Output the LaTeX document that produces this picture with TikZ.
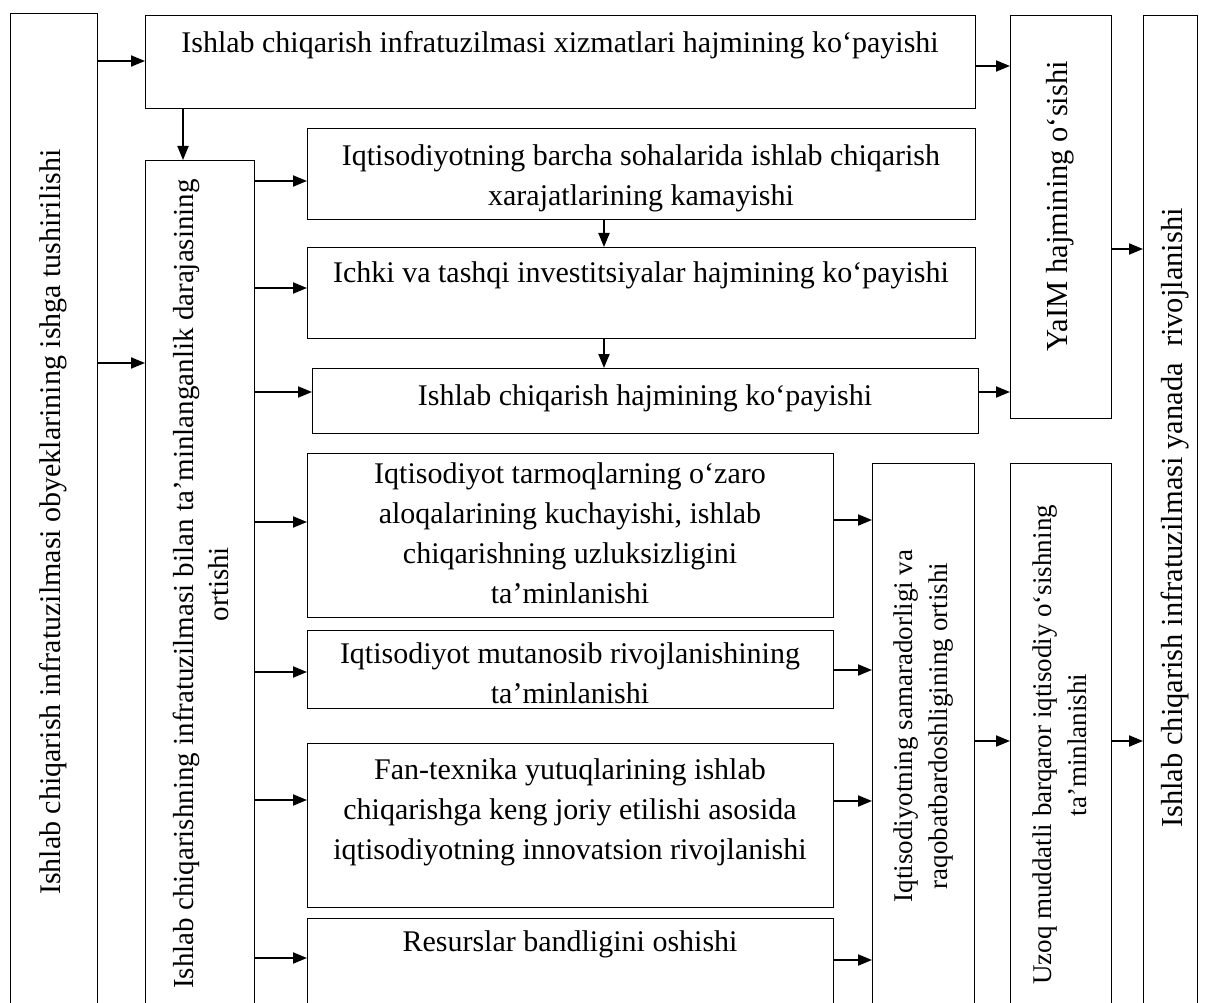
\documentclass[tikz,border=0pt]{standalone}
\usepackage{fontspec}
\setmainfont{Liberation Serif}
\usetikzlibrary{arrows.meta}

\tikzset{
  box/.style={draw, line width=1.4pt, anchor=north west, inner sep=0pt},
  txt/.style={font=\fontsize{30}{40}\selectfont, align=center, inner sep=0pt},
  smalltxt/.style={font=\fontsize{27}{35}\selectfont, align=center, inner sep=0pt},
  arr/.style={line width=2pt, -{Triangle[length=14pt,width=11pt]}},
}

\begin{document}
\begin{tikzpicture}[x=1pt, y=-1pt]
		%%%%% START %%%%%
		\useasboundingbox (0,0) rectangle (1208,1003);
		\clip (0,0) rectangle (1208,1003);
		
		% boxes
		\node[box, minimum width=87pt, minimum height=1000pt] (A) at (10,13) {};
		\node[box, minimum width=830pt, minimum height=93pt] (B) at (145,15) {};
		\node[box, minimum width=109pt, minimum height=860pt] (C) at (145,160) {};
		\node[box, minimum width=101pt, minimum height=403pt] (Y) at (1010,15) {};
		\node[box, minimum width=54pt, minimum height=1000pt] (G) at (1143,15) {};
		
		\node[box, minimum width=668pt, minimum height=91pt] (D1) at (307,128) {};
		\node[box, minimum width=668pt, minimum height=91pt] (D2) at (307,247) {};
		\node[box, minimum width=666pt, minimum height=65pt] (D3) at (312,368) {};
		\node[box, minimum width=526pt, minimum height=164pt] (D4) at (307,453) {};
		\node[box, minimum width=526pt, minimum height=78pt] (D5) at (307,630) {};
		\node[box, minimum width=526pt, minimum height=164pt] (D6) at (307,743) {};
		\node[box, minimum width=526pt, minimum height=100pt] (D7) at (307,918) {};
		
		\node[box, minimum width=102pt, minimum height=560pt] (E) at (872,463) {};
		\node[box, minimum width=101pt, minimum height=560pt] (F) at (1010,463) {};
		
		% texts
		\node[txt, rotate=90] (tA) at (53,522) {Ishlab chiqarish infratuzilmasi obyeklarining ishga tushirilishi};
		\node[txt] (tB) at (560,45) {Ishlab chiqarish infratuzilmasi xizmatlari hajmining ko‘payishi};
		\node[txt, rotate=90, font=\fontsize{29}{35}\selectfont] (tC) at (201,584) {Ishlab chiqarishning infratuzilmasi bilan ta’minlanganlik darajasining\\ortishi};
		\node[txt, rotate=90, font=\fontsize{30.5}{40}\selectfont] (tY) at (1060,206) {YaIM hajmining o‘sishi};
		\node[txt, rotate=90, font=\fontsize{30.5}{40}\selectfont] (tG) at (1175,518) {Ishlab chiqarish infratuzilmasi yanada\hspace{16pt}rivojlanishi};
		
		\node[txt] (tD1) at (641,178) {Iqtisodiyotning barcha sohalarida ishlab chiqarish\\xarajatlarining kamayishi};
		\node[txt] (tD2) at (641,275) {Ichki va tashqi investitsiyalar hajmining ko‘payishi};
		\node[txt] (tD3) at (645,398) {Ishlab chiqarish hajmining ko‘payishi};
		\node[txt] (tD4) at (570,533) {Iqtisodiyot tarmoqlarning o‘zaro\\aloqalarining kuchayishi, ishlab\\chiqarishning uzluksizligini\\ta’minlanishi};
		\node[txt] (tD5) at (570,673) {Iqtisodiyot mutanosib rivojlanishining\\ta’minlanishi};
		\node[txt] (tD6) at (570,812) {Fan-texnika yutuqlarining ishlab\\chiqarishga keng joriy etilishi asosida\\iqtisodiyotning innovatsion rivojlanishi};
		\node[txt] (tD7) at (570,944) {Resurslar bandligini oshishi};
		
		\node[smalltxt, rotate=90] (tE) at (924,726) {Iqtisodiyotning samaradorligi va\\raqobatbardoshligining ortishi};
		\node[smalltxt, rotate=90] (tF) at (1060,745) {Uzoq muddatli barqaror iqtisodiy o‘sishning\\ta’minlanishi};
		
		% arrows
		\draw[arr] (A.east |- 0,61) -- (B.west |- 0,61);
		\draw[arr] (A.east |- 0,363) -- (C.west |- 0,363);
		\draw[arr] (B.south -| 183,0) -- (C.north -| 183,0);
		\draw[arr] (B.east |- 0,66) -- (Y.west |- 0,66);
		
		\draw[arr] (C.east |- 0,181) -- (D1.west |- 0,181);
		\draw[arr] (C.east |- 0,288) -- (D2.west |- 0,288);
		\draw[arr] (C.east |- 0,392) -- (D3.west |- 0,392);
		\draw[arr] (C.east |- 0,522) -- (D4.west |- 0,522);
		\draw[arr] (C.east |- 0,672) -- (D5.west |- 0,672);
		\draw[arr] (C.east |- 0,800) -- (D6.west |- 0,800);
		\draw[arr] (C.east |- 0,958) -- (D7.west |- 0,958);
		
		\draw[arr] (D1.south -| 604,0) -- (D2.north -| 604,0);
		\draw[arr] (D2.south -| 604,0) -- (D3.north -| 604,0);
		\draw[arr] (D3.east |- 0,392) -- (Y.west |- 0,392);
		\draw[arr] (Y.east |- 0,249) -- (G.west |- 0,249);
		
		\draw[arr] (D4.east |- 0,520) -- (E.west |- 0,520);
		\draw[arr] (D5.east |- 0,670) -- (E.west |- 0,670);
		\draw[arr] (D6.east |- 0,801) -- (E.west |- 0,801);
		\draw[arr] (D7.east |- 0,960) -- (E.west |- 0,960);
		
		\draw[arr] (E.east |- 0,741) -- (F.west |- 0,741);
		\draw[arr] (F.east |- 0,741) -- (G.west |- 0,741);
		
		%%%%% END %%%%%
\end{tikzpicture}
\end{document}
